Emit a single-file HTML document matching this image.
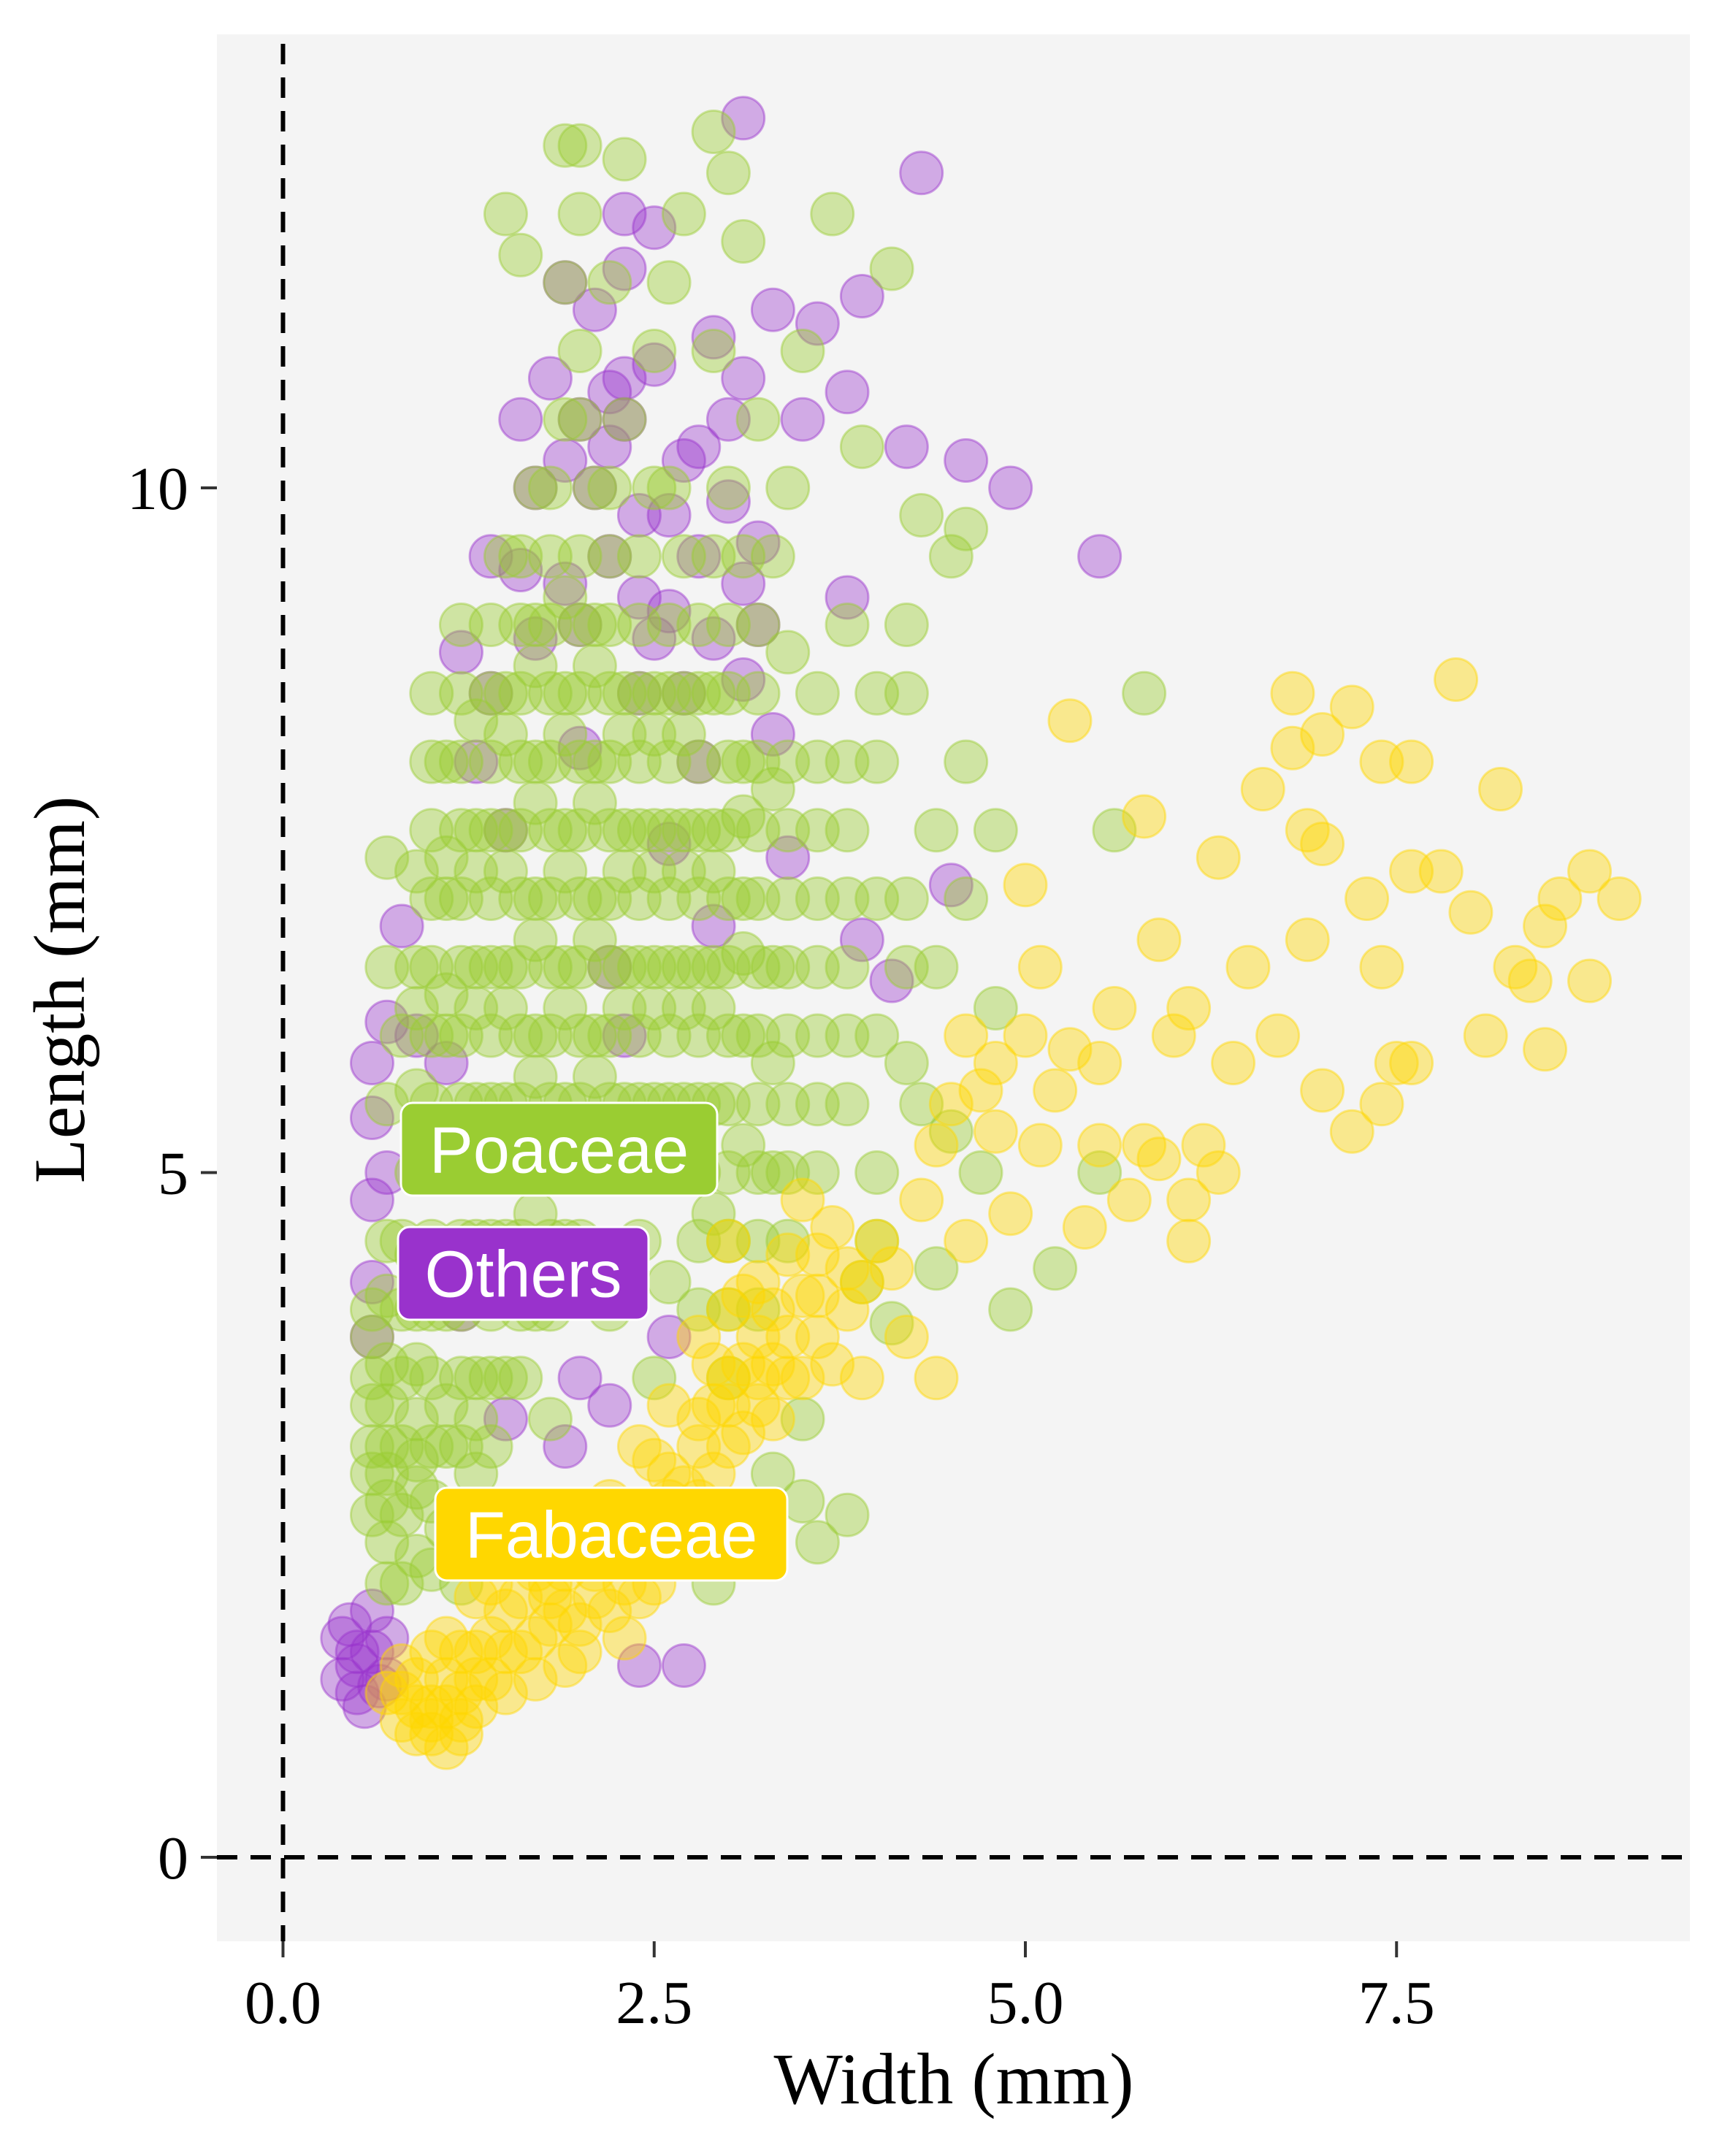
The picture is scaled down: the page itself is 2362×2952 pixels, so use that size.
<!DOCTYPE html>
<html><head><meta charset="utf-8"><style>
html,body{margin:0;padding:0;background:#fff;}
svg{display:block;}
</style></head><body>
<svg id="chart" width="2362" height="2952" viewBox="0 0 2362 2952" xmlns="http://www.w3.org/2000/svg">
<rect x="297" y="47" width="2017" height="2611" fill="#F4F4F4"/>
<g id="points"></g>
<g id="axes"></g>
<g id="labels"></g>
</svg>
<script>
const xTicks=[0,2.5,5,7.5];
const xTickLabels=["0.0","2.5","5.0","7.5"];
const yTicks=[0,5,10];
const yTickLabels=["0","5","10"];
const othersPts=[[0.4,1.3],[0.4,1.6],[0.5,1.4],[0.6,1.5],[0.7,1.6],[0.5,1.2],[0.6,1.8],[0.5,1.5],[0.7,1.3],[0.45,1.7],[0.55,1.1],[0.65,1.25],[0.6,4.8],[0.6,5.4],[0.7,6.1],[0.8,6.8],[0.9,6],[0.6,5.8],[0.7,5],[0.6,4.2],[0.6,3.8],[1.2,4],[1.4,9.5],[1.4,8.5],[1.6,10.5],[1.7,10],[1.8,10.8],[1.9,11.5],[2,9],[2.1,11.3],[2.2,10.7],[2.3,10.5],[2.3,12],[2.4,9.2],[2.5,11.9],[2.6,9.8],[2.7,10.2],[2.8,9.5],[2.9,11.1],[3,9.9],[3.1,12.7],[3.1,10.8],[3.2,9],[3.3,11.3],[3.5,10.5],[3.6,11.2],[3.8,10.7],[3.8,9.2],[3.9,11.4],[4.1,6.4],[4.2,10.3],[4.3,12.3],[4.6,10.2],[4.9,10],[5.5,9.5],[4.5,7.1],[3.9,6.7],[3.4,7.3],[2.5,8.9],[2.4,2.4],[2.8,2.2],[2.4,1.4],[2.7,1.4],[1.5,3.2],[2,3.5],[1.2,8.8],[2.2,6.5],[3.1,8.6],[2.6,7.4],[1.7,4.3],[1.1,5.8],[2.2,10.3],[2.4,9.8],[2,10.5],[1.9,9.3],[2.7,8.5],[3.2,9.6],[1.9,10.2],[2.1,10],[2.3,10.8],[2.3,11.6],[2.5,10.9],[2.8,10.3],[3,10.5],[2.2,9.5],[2.6,9.1],[3.1,9.3],[2.9,8.9],[1.6,9.4],[1.7,8.9],[2.4,8.5],[2,8.1],[2.8,8],[3.3,8.2],[1.3,8],[1.5,7.5],[2.3,6],[2.9,6.8],[1.9,3],[2.2,3.3],[2.6,3.8]];
const poaceaePts=[[0.6,2.5],[0.6,3],[0.6,3.5],[0.6,4],[0.7,4.5],[0.7,5.5],[0.7,6.5],[0.7,7.3],[0.8,3],[0.8,6],[0.9,2.2],[0.9,7.2],[1,3.5],[1,4.5],[1,5.5],[1,6.5],[1,7.5],[1,8.5],[1.2,2.5],[1.2,3.5],[1.2,4.5],[1.2,5.5],[1.2,6.5],[1.2,7.5],[1.2,8.5],[1.2,9],[1.4,3],[1.4,4],[1.4,5],[1.4,6],[1.4,7],[1.4,8],[1.4,9],[1.6,3.5],[1.6,4.5],[1.6,5.5],[1.6,6.5],[1.6,7.5],[1.6,8.5],[1.6,9.5],[1.6,11.7],[1.8,4],[1.8,5],[1.8,6],[1.8,7],[1.8,8],[1.8,9],[1.8,10],[1.9,12.5],[2,4.5],[2,5.5],[2,6.5],[2,7.5],[2,8.5],[2,9.5],[2,10.5],[2,11],[2,12],[2.2,5],[2.2,6],[2.2,7],[2.2,8],[2.2,9],[2.2,10],[2.3,12.4],[2.4,4.5],[2.4,5.5],[2.4,6.5],[2.4,7.5],[2.4,8.5],[2.4,9.5],[2.6,5],[2.6,6],[2.6,7],[2.6,8],[2.6,9],[2.6,10],[2.6,11.5],[2.8,4],[2.8,5],[2.8,6],[2.8,7],[2.8,8],[2.8,9],[2.9,12.6],[3,3.5],[3,4.5],[3,5.5],[3,6.5],[3,7.5],[3,8.5],[3,10],[3,12.3],[3.2,4],[3.2,5],[3.2,6],[3.2,7],[3.2,8],[3.2,9],[3.4,4.5],[3.4,6],[3.4,7.5],[3.4,8.8],[3.6,5],[3.6,7],[3.6,8.5],[3.6,2.3],[3.7,12],[3.8,5.5],[3.8,7.5],[3.8,9],[4,6],[4,8],[4,4.5],[4.2,7],[4.2,8.5],[4.2,5.8],[4.4,6.5],[4.4,4.3],[4.5,9.5],[4.6,8],[4.7,5],[4.8,7.5],[4.9,4],[5.2,4.3],[5.5,5],[5.6,7.5],[5.8,8.5],[4.1,11.6],[3.3,2.8],[2.9,2],
[0.8,2.5],[0.8,3.5],[0.8,4.5],[0.9,5],[0.9,6.5],[1.1,3],[1.1,4],[1.1,5],[1.1,6],[1.1,7],[1.1,8],[1.3,3.5],[1.3,4.5],[1.3,5.5],[1.3,6.5],[1.3,7.5],[1.5,3.5],[1.5,4.5],[1.5,5.5],[1.5,6.5],[1.5,7.5],[1.5,8.5],[1.7,4],[1.7,5],[1.7,6],[1.7,7],[1.7,8],[1.7,9],[1.9,4.5],[1.9,5.5],[1.9,6.5],[1.9,7.5],[1.9,8.5],[2.1,5],[2.1,6],[2.1,7],[2.1,8],[2.1,9],[2.3,5.5],[2.3,6.5],[2.3,7.5],[2.3,8.5],[2.5,5.5],[2.5,6.5],[2.5,7.5],[2.5,8.5],[2.7,5.5],[2.7,6.5],[2.7,7.5],[2.7,8.5],[2.9,5.5],[2.9,6.5],[2.9,7.5],[2.9,8.5],[3.1,6],[3.1,7],[3.1,8],[3.3,6.5],[3.3,5],[0.7,2],[0.7,3.3],[0.9,4],[1,2.6],[1.3,2.8],[1.5,2.5],[1.8,3.2],[2.2,4],[2.5,3.5],[2.6,4.2],
[0.6,2.8],[0.6,3.3],[0.6,3.8],[0.7,2.3],[0.7,2.8],[0.8,2],[0.8,4],[0.9,2.7],[0.9,3.2],[1,2.1],[1,3],[1,4],[1,5],[1,6],[1,7],[1,8],[1.1,2.4],[1.2,2],[1.2,3],[1.2,4],[1.2,5],[1.2,6],[1.2,7],[1.2,8],[1.4,2.4],[1.4,3.5],[1.4,4.5],[1.4,5.5],[1.4,6.5],[1.4,7.5],[1.4,8.5],[1.6,4],[1.6,5],[1.6,6],[1.6,7],[1.6,8],[1.6,9],[1.8,4.5],[1.8,5.5],[1.8,6.5],[1.8,7.5],[1.8,8.5],[1.8,9.5],[2,5],[2,6],[2,7],[2,8],[2,9],[2.2,5.5],[2.2,6.5],[2.2,7.5],[2.2,8.5],[2.2,9.5],[2.4,5],[2.4,6],[2.4,7],[2.4,8],[2.4,9],[2.6,5.5],[2.6,6.5],[2.6,7.5],[2.6,8.5],[2.8,4.5],[2.8,5.5],[2.8,6.5],[2.8,7.5],[2.8,8.5],[3,4],[3,5],[3,6],[3,7],[3,8],[3,9],[3.2,4.5],[3.2,5.5],[3.2,6.5],[3.2,7.5],[3.2,8.5],[3.4,5],[3.4,5.5],[3.4,6.5],[3.4,7],[3.4,8],[3.6,5.5],[3.6,6],[3.6,6.5],[3.6,7.5],[3.6,8],[3.8,6],[3.8,6.5],[3.8,7],[3.8,8],[4,7],[4,8.5],[4,5],[4.2,6.5],[4.2,9],[1.5,9.5],[1.7,10],[1.9,10.5],[2.1,10],[2.3,10.5],[2.5,10],[2.7,9.5],[2.9,9.5],[3.1,9.5],[3.3,9.5],[1.9,11.5],[2.2,11.5],[2.5,11],[2.9,11],[3.2,10.5],[3.4,10],[1.5,12],[2,12.5],[2.7,12],[3.1,11.8],[3.5,11],[3.9,10.3],[4.3,9.8],[4.6,9.7],[4.4,7.5],[4.6,7],[4.8,6.2],[4.3,5.5],[4.5,5.3],[3.9,4.2],[4.1,3.9],[3.5,3.2],[3.8,2.5],[3.5,2.6],[3.1,2.4],
[0.7,2.6],[0.7,3.0],[0.7,3.6],[0.7,4.1],[0.9,2.9],[0.9,3.6],[0.9,4.4],[0.9,5.6],[0.9,6.2],[1.1,3.3],[1.1,4.3],[1.1,5.3],[1.1,6.3],[1.1,7.3],[1.3,3.2],[1.3,4.2],[1.3,5.2],[1.3,6.2],[1.3,7.2],[1.3,8.3],[1.5,4.2],[1.5,5.2],[1.5,6.2],[1.5,7.2],[1.5,8.2],[1.7,4.7],[1.7,5.7],[1.7,6.7],[1.7,7.7],[1.7,8.7],[1.9,5.2],[1.9,6.2],[1.9,7.2],[1.9,8.2],[1.9,9.2],[2.1,5.7],[2.1,6.7],[2.1,7.7],[2.1,8.7],[2.3,5.2],[2.3,6.2],[2.3,7.2],[2.3,8.2],[2.5,5.2],[2.5,6.2],[2.5,7.2],[2.5,8.2],[2.7,6.2],[2.7,7.2],[2.7,8.2],[2.9,6.2],[2.9,7.2],[2.9,4.7],[3.1,5.2],[3.1,6.6],[3.1,7.6],[3.3,5.8],[3.3,7.8]];
const fabaceaePts=[[0.7,1.2],[0.8,1],[0.9,0.9],[1,1.1],[1.1,0.8],[1.2,1.2],[1.3,1.5],[1,1.5],[1.5,1.8],[1.7,1.6],[1.8,2],[2,2.2],[2.2,1.8],[2.3,1.6],[2.4,2.5],[2.6,2.8],[2.8,3.2],[3,3],[3.1,3.6],[3.2,4.2],[3.4,3.8],[3.5,3.5],[3.6,4.4],[3.8,4],[4,4.5],[4.2,3.8],[4.3,4.8],[2.8,3.8],[3,4.5],[4.4,3.5],[1.6,2.3],[1.4,1.3],[1.9,1.4],[0.8,1.4],[1.2,0.9],[1.3,1.9],[1.5,1.2],[1.7,2.1],[2,1.7],[2.1,2.5],[2.5,2],[2.7,2.4],[2.9,2.8],[3.3,3.2],[3.2,3.5],[3.6,3.8],[3.5,4.8],[3.9,3.5],[2.4,3],[1.1,1.6],
[0.8,1.2],[0.9,1.1],[1,0.9],[1.1,1.3],[1.2,1.5],[1.3,1.1],[1.4,1.6],[1.5,1.5],[1.6,1.9],[1.7,1.3],[1.8,1.7],[1.9,2.1],[2,1.5],[2.1,1.9],[2.2,2.2],[2.3,2],[2.4,1.9],[2.5,2.4],[2.6,2.2],[2.7,2.7],[2.8,2.6],[2.9,3.3],[3,3.5],[3.1,3.1],[3.2,3.8],[3.3,4],[3.4,4.4],[3.5,4.1],[3.7,3.6],[3.7,4.6],[3.9,4.2],[4.1,4.3],[3.3,3.6],[3,4],[2.6,3.3],[2.5,2.9],[2.2,2.6],[1.9,1.8],[1.4,2],[1.1,1.1],
[0.9,1.3],[1,1.0],[1.2,1.0],[1.3,1.3],[1.6,1.5],[1.8,1.9],[2.1,2.1],[2.3,2.3],[2.6,2.6],[2.8,3],[3,3.3],[3.2,3.3],[3.4,3.5],[3.6,4.1],[3.8,4.3],[2.9,3.6],[3.1,4.1],
[4.5,5.5],[4.6,6],[4.8,5.3],[5,6],[5.2,5.6],[5.5,5.2],[5.7,4.8],[5.9,5.1],[6.1,4.5],[6.2,5.2],[6.4,5.8],[6.5,6.5],[6.3,7.3],[6.6,7.8],[6.8,8.1],[7,7.4],[7.2,8.4],[7.3,7],[7.4,6.5],[7.5,5.8],[7.6,7.2],[7.8,7.2],[8,6.9],[8.2,7.8],[8.4,6.4],[8.6,7],[8.8,7.2],[9,7],[8.8,6.4],[8.5,5.9],[7.9,8.6],[7.6,8],[7,8.2],[6.9,7.5],[5.8,7.6],[5.3,8.3],[5,7.1],[4.8,5.8],[5.9,6.7],[6.7,6],[7.2,5.3],[7,5.6],[6.1,6.2],[5.4,4.6],[5.6,6.2],[6.8,8.5],[8.1,6],[7.4,8],[4.6,4.5],[5.1,6.5],[6,6],[5.5,5.8],[6.9,6.7],[4.4,5.2],[4.7,5.6],[5.1,5.2],[4.9,4.7],[5.3,5.9],[5.8,5.2],[6.3,5],[6.1,4.8],[7.4,5.5],[7.6,5.8],[8.3,6.5],[8.5,6.8]];
const groups=[
 {name:"others",color:"#9932CC",pts:othersPts,op:0.38},
 {name:"poaceae",color:"#9ACD32",pts:poaceaePts,op:0.42},
 {name:"fabaceae",color:"#FFD700",pts:fabaceaePts,op:0.42}];
const X0=387.5,XU=203.3,Y0=2543,YU=187.5;
const sx=v=>X0+v*XU, sy=v=>Y0-v*YU;
const NS="http://www.w3.org/2000/svg";
function mk(tag,attrs,parent){const e=document.createElementNS(NS,tag);for(const k in attrs)e.setAttribute(k,attrs[k]);parent.appendChild(e);return e;}
const pg=document.getElementById('points');
groups.forEach(g=>{g.pts.forEach((p,i)=>{
 const c=mk('circle',{cx:sx(p[0]),cy:sy(p[1]),r:29,fill:g.color,'fill-opacity':g.op,stroke:g.color,'stroke-opacity':0.45,'stroke-width':3},pg);
 
 
});});
const ax=document.getElementById('axes');
let l=mk('line',{x1:sx(0),x2:sx(0),y1:60,y2:2658,stroke:'#000','stroke-width':6,'stroke-dasharray':'28 18'},ax);

l=mk('line',{x1:297,x2:2314,y1:sy(0),y2:sy(0),stroke:'#000','stroke-width':6,'stroke-dasharray':'28 18'},ax);

xTicks.forEach((v,i)=>{
 const t=mk('line',{x1:sx(v),x2:sx(v),y1:2658,y2:2680,stroke:'#333','stroke-width':4},ax);
 
 const tx=mk('text',{x:sx(v),y:2770,'text-anchor':'middle','font-family':'Liberation Serif, serif','font-size':84,fill:'#000'},ax);
 tx.textContent=xTickLabels[i];
 
});
yTicks.forEach((v,i)=>{
 const t=mk('line',{x1:275,x2:297,y1:sy(v),y2:sy(v),stroke:'#333','stroke-width':4},ax);
 
 const tx=mk('text',{x:258,y:sy(v)+29,'text-anchor':'end','font-family':'Liberation Serif, serif','font-size':84,fill:'#000'},ax);
 tx.textContent=yTickLabels[i];
 
});
let tt=mk('text',{x:1306,y:2880,'text-anchor':'middle','font-family':'Liberation Serif, serif','font-size':100,fill:'#000'},ax);
tt.textContent='Width (mm)';
tt=mk('text',{x:0,y:0,'text-anchor':'middle','font-family':'Liberation Serif, serif','font-size':100,fill:'#000',transform:'translate(115,1355) rotate(-90)'},ax);
tt.textContent='Length (mm)';
const lab=document.getElementById('labels');
[["Poaceae","#9ACD32",549,1510,433,127],["Others","#9932CC",545,1680,343,127],["Fabaceae","#FFD700",596,2037,482,127]].forEach(d=>{
 const r=mk('rect',{x:d[2],y:d[3],width:d[4],height:d[5],rx:16,fill:d[1],stroke:'#fff','stroke-width':3},lab);
 
 const t=mk('text',{x:d[2]+d[4]/2,y:d[3]+d[5]/2+32,'text-anchor':'middle','font-family':'Liberation Sans, sans-serif','font-size':90,fill:'#fff'},lab);
 t.textContent=d[0];
});
</script>
</body></html>
